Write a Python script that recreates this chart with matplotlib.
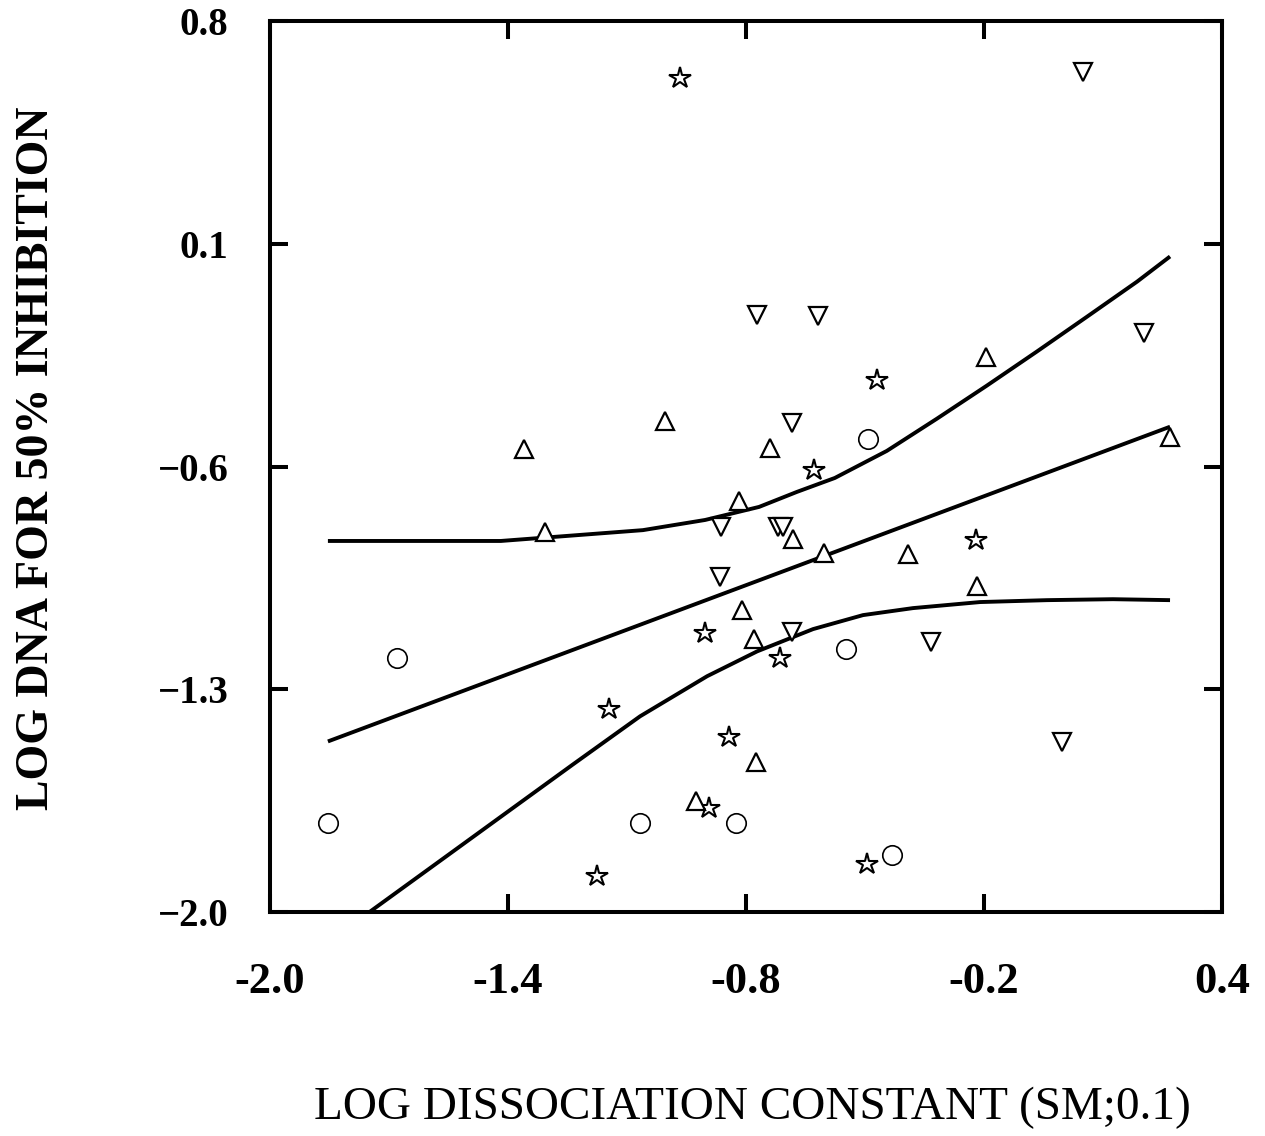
import matplotlib
matplotlib.use("Agg")
import matplotlib.pyplot as plt

plt.rcParams['font.family'] = ['Liberation Serif', 'DejaVu Serif']

# --- data ---
star_x = [-0.966, -0.470, -0.629, -0.220, -0.903, -0.714, -1.145, -0.843, -0.893, -1.176, -0.495]
star_y = [0.620, -0.327, -0.611, -0.831, -1.124, -1.202, -1.363, -1.451, -1.672, -1.886, -1.848]

circ_x = [-1.680, -1.854, -1.067, -0.825, -0.493, -0.548, -0.432]
circ_y = [-1.202, -1.719, -1.719, -1.719, -0.513, -1.174, -1.820]

up_x = [-1.360, -1.307, -1.004, -0.740, -0.818, -0.682, -0.603, -0.810, -0.780,
        -0.775, -0.926, -0.392, -0.218, -0.195, 0.269]
up_y = [-0.544, -0.806, -0.456, -0.541, -0.708, -0.828, -0.872, -1.051, -1.143,
        -1.530, -1.650, -0.875, -0.976, -0.255, -0.507]

down_x = [0.049, -0.772, -0.619, 0.203, -0.684, -0.863, -0.720, -0.707, -0.866,
          -0.684, -0.334, -0.004]
down_y = [0.639, -0.123, -0.126, -0.179, -0.463, -0.790, -0.790, -0.790, -0.947,
          -1.121, -1.152, -1.467]

# regression line (end points)
fit_x = [-1.854, 0.269]
fit_y = [-1.464, -0.475]

# upper and lower bands
upper_x = [-1.854, -1.418, -1.060, -0.903, -0.767, -0.672, -0.576, -0.445,
           -0.319, -0.193, -0.067, 0.060, 0.186, 0.269]
upper_y = [-0.834, -0.834, -0.800, -0.768, -0.727, -0.680, -0.636, -0.551,
           -0.450, -0.346, -0.239, -0.129, -0.019, 0.060]

lower_x = [-1.748, -1.571, -1.403, -1.236, -1.067, -0.898, -0.772, -0.631,
           -0.505, -0.379, -0.210, -0.041, 0.125, 0.269]
lower_y = [-1.999, -1.839, -1.687, -1.536, -1.385, -1.259, -1.181, -1.111,
           -1.067, -1.045, -1.026, -1.020, -1.017, -1.020]

xticks = [-2.0, -1.4, -0.8, -0.2, 0.4]
xtick_labels = ['-2.0', '-1.4', '-0.8', '-0.2', '0.4']
yticks = [0.8, 0.1, -0.6, -1.3, -2.0]
ytick_labels = ['0.8', '0.1', '\u22120.6', '\u22121.3', '\u22122.0']

fig = plt.figure(figsize=(12.65, 11.36), dpi=100)
ax = fig.add_axes([270 / 1265, 1 - 912 / 1136, (1222 - 270) / 1265, (912 - 21) / 1136])

lw = 2.8
ax.plot(fit_x, fit_y, color='black', lw=lw, solid_capstyle='butt')
ax.plot(upper_x, upper_y, color='black', lw=lw, solid_capstyle='butt', solid_joinstyle='round')
ax.plot(lower_x, lower_y, color='black', lw=lw, solid_capstyle='butt', solid_joinstyle='round')

ax.plot(star_x, star_y, ls='none', marker='*', ms=16, mfc='white', mec='black', mew=1.5)
ax.plot(circ_x, circ_y, ls='none', marker='o', ms=14, mfc='white', mec='black', mew=1.2)
ax.plot(up_x, up_y, ls='none', marker='^', ms=13, mfc='white', mec='black', mew=1.6)
ax.plot(down_x, down_y, ls='none', marker='v', ms=13, mfc='white', mec='black', mew=1.6)

ax.set_xlim(-2.0, 0.4)
ax.set_ylim(-2.0, 0.8)

ax.set_xticks(xticks)
ax.set_xticklabels(xtick_labels, fontsize=32, fontweight='bold')
ax.set_yticks(yticks)
ax.set_yticklabels(ytick_labels, fontsize=28, fontweight='bold')

ax.tick_params(axis='both', direction='in', length=13, width=2.9,
               top=True, right=True)
ax.tick_params(axis='x', pad=36)
ax.tick_params(axis='y', pad=30)

for s in ax.spines.values():
    s.set_linewidth(2.9)

fig.text(37 / 1265, 1 - 458 / 1136, 'LOG DNA FOR 50% INHIBITION', rotation=90,
         fontsize=33, fontweight='bold', ha='center', va='center')
fig.text(752 / 1265, 1 - 1108 / 1136, 'LOG DISSOCIATION CONSTANT (SM;0.1)',
         fontsize=34, ha='center', va='center')

fig.savefig('out.png', dpi=100)
